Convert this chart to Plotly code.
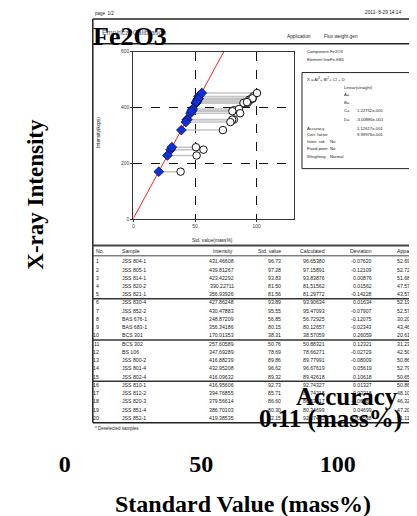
import plotly.graph_objects as go

# ---------------- data ----------------
sample_no = list(range(1, 21))
samples = ["JSS 804-1", "JSS 805-1", "JSS 814-1", "JSS 820-2", "JSS 821-1",
           "JSS 830-4", "JSS 852-2", "BAS 676-1", "BAS 683-1", "BCS 301",
           "BCS 302", "BS 106", "JSS 800-2", "JSS 801-4", "JSS 802-4",
           "JSS 810-1", "JSS 812-2", "JSS 820-3", "JSS 851-4", "JSS 852-1"]
intensity = [431.46608, 439.81267, 423.42292, 390.22711, 356.93926,
             427.86248, 430.47883, 248.87209, 356.34186, 170.01353,
             257.60589, 347.69289, 416.88239, 432.95208, 416.09632,
             416.95606, 394.76855, 379.56614, 386.70103, 419.38535]
std_value = [96.73, 97.28, 93.83, 81.50, 81.56,
             93.89, 95.55, 56.85, 80.15, 38.31,
             50.76, 78.69, 89.86, 96.62, 89.32,
             92.73, 85.71, 86.60, 80.30, 92.15]
calculated = [96.65380, 97.15891, 93.83876, 81.51562, 81.29772,
              93.90634, 95.47093, 56.72925, 80.12657, 38.57059,
              50.88321, 78.66271, 89.77991, 96.67619, 89.42618,
              92.74327, 85.74218, 86.53417, 80.34699, 92.07462]
deviation = [-0.07620, -0.12109, 0.00876, 0.01562, -0.14228,
             0.01634, -0.07907, -0.12075, -0.02343, 0.26059,
             0.12321, -0.02729, -0.08009, 0.05619, 0.10618,
             0.01327, 0.03218, -0.06583, 0.04699, -0.07538]
apparent = [52.6906, 52.7289, 51.6866, 47.5785, 43.5786,
            52.1982, 52.5708, 30.2069, 43.4619, 20.6136,
            31.2366, 42.5016, 50.8672, 52.7996, 50.6556,
            50.8606, 48.1062, 46.3227, 47.2036, 51.1137]
# further samples plotted (listed on page 2 of the report)
extra_intensity = [228.0, 319.0, 452.0]
extra_std = [51.3, 72.6, 100.3]
extra_apparent = [27.6, 38.9, 55.5]

coef_C = 1.22752e-001
coef_D = -3.00886e-001
coef_accuracy = 1.12617e-001
corr_factor = 9.99976e-001
accuracy_value = 0.11

outer_ticks = [0, 50, 100]
inner_xticks = [0, 50, 100]
inner_yticks = [0, 200, 400, 600]

# ---------------- geometry helpers ----------------
W, H = 417, 516
MB = 77
PH = H - MB
OFF = 8  # page margin of the browser


def fx(px):
    return (px - OFF) / W


def fy(py):
    return (PH - (py - OFF)) / PH


def sci(v):
    m, e = ("%.5e" % v).split("e")
    return "%se%s%03d" % (m, e[0], abs(int(e)))


SANS = "Liberation Sans, Arial, sans-serif"
SERIF = "Liberation Serif, Times New Roman, serif"
annots = []


def txt(px, py, s, size=5.5, xanchor="left", color="#222222", family=SANS, **kw):
    annots.append(dict(x=fx(px), y=fy(py), xref="paper", yref="paper", text=s,
                       showarrow=False, xanchor=xanchor, yanchor="middle",
                       font=dict(size=size, color=color, family=family), **kw))


shapes = []


def hline(py, x0, x1, w=1.2, color="#222222"):
    shapes.append(dict(type="line", xref="paper", yref="paper", x0=fx(x0), x1=fx(x1),
                       y0=fy(py), y1=fy(py), line=dict(color=color, width=w)))


def vline(px, y0, y1, w=1.2, color="#222222"):
    shapes.append(dict(type="line", xref="paper", yref="paper", x0=fx(px), x1=fx(px),
                       y0=fy(y0), y1=fy(y1), line=dict(color=color, width=w)))


# ---------------- report frame ----------------
hline(16, 92, 425, 1.5)
hline(41, 92, 425, 1.5)
vline(92, 16, 422.5, 1.5)
shapes.append(dict(type="rect", xref="paper", yref="paper", x0=fx(301.7), x1=fx(416),
                   y0=fy(70), y1=fy(166.7), line=dict(color="#222222", width=1)))

txt(92, 11, "page  1/2", size=4.5)
txt(404, 10, "2011- 8-29 14:14", size=4.8, xanchor="right")
txt(99, 30, "Empirical Calibration", size=7, color="#55608a")
txt(285, 34, "Application", size=4.8)
txt(322, 34, "Flux weight gen", size=4.8)

S = 4.2
txt(305, 49, "Component", size=S)
txt(328, 49, "Fe2O3", size=S)
txt(305, 57, "Element line", size=S)
txt(328, 57, "Fe-KB1", size=S)

txt(305, 76.5, "X = AI<sup>3</sup>+ BI<sup>2</sup>+ CI + D", size=S)
txt(341.5, 85, "Linear(straight)", size=S)
txt(341.5, 92.3, "A=", size=S)
txt(341.5, 100, "B=", size=S)
txt(341.5, 108.3, "C=", size=S)
txt(386, 108.3, sci(coef_C), size=S, xanchor="right")
txt(341.5, 117.3, "D=", size=S)
txt(386, 117.3, sci(coef_D), size=S, xanchor="right")
txt(305, 126, "Accuracy", size=S)
txt(386, 126, sci(coef_accuracy), size=S, xanchor="right")
txt(305, 132, "Corr. factor", size=S)
txt(386, 132, sci(corr_factor), size=S, xanchor="right")
txt(305, 139.5, "Inten. std", size=S)
txt(328, 139.5, "No", size=S)
txt(305, 146.7, "Fixed point", size=S)
txt(328, 146.7, "No", size=S)
txt(305, 154, "Weighting", size=S)
txt(328, 154, "Normal", size=S)

# inner axis titles
txt(212, 239, "Std. value(mass%)", size=4.8, xanchor="center")
txt(97, 130, "Intensity(kcps)", size=4.8, xanchor="center", textangle=-90)

# ---------------- table ----------------
hline(244, 92, 425, 2, "#444444")
hline(254.5, 92, 425, 1, "#444444")
header_y = 249.3
T = 5.2
txt(93, header_y, "No.", size=T)
txt(119, header_y, "Sample", size=T)
txt(235, header_y, "Intensity", size=T, xanchor="right")
txt(283, header_y, "Std. value", size=T, xanchor="right")
txt(327, header_y, "Calculated", size=T, xanchor="right")
txt(374, header_y, "Deviation", size=T, xanchor="right")
txt(395, header_y, "Apparent", size=T)

for i in range(len(sample_no)):
    g, j = divmod(i, 5)
    ry = 260 + g * 41.5 + j * 8.3
    txt(100, ry, str(sample_no[i]), size=T, xanchor="right")
    txt(119, ry, samples[i], size=T)
    txt(236, ry, "%.5f" % intensity[i], size=T, xanchor="right")
    txt(283, ry, "%.2f" % std_value[i], size=T, xanchor="right")
    txt(327, ry, "%.5f" % calculated[i], size=T, xanchor="right")
    txt(374, ry, "%.5f" % deviation[i], size=T, xanchor="right")
    txt(395, ry, "%.4f" % apparent[i], size=T)
for g in range(1, 4):
    hline(260 + g * 41.5 - 3.8, 92, 425, 1.5, "#333333")
hline(422.5, 92, 425, 1.5)
txt(92, 428.5, "*:Deselected samples", size=4.5)

# ---------------- inner calibration plot ----------------
all_I = intensity + extra_intensity
all_std = std_value + extra_std
all_app = apparent + extra_apparent

cx, cy = [], []
for a, s, it in zip(all_app, all_std, all_I):
    cx += [a, s, None]
    cy += [it, it, None]

fig = go.Figure()
# anchors the outer (label) axes
fig.add_trace(go.Scatter(x=[None], y=[None], mode="markers", xaxis="x", yaxis="y",
                         hoverinfo="skip"))
fig.add_trace(go.Scatter(x=cx, y=cy, mode="lines", xaxis="x2", yaxis="y2",
                         line=dict(color="#c4c4c4", width=1.5), hoverinfo="skip"))
line_I = [0, 600]
fig.add_trace(go.Scatter(x=[coef_C * v + coef_D for v in line_I], y=line_I,
                         mode="lines", xaxis="x2", yaxis="y2",
                         line=dict(color="#ff2020", width=1)))
fig.add_trace(go.Scatter(x=all_std, y=all_I, mode="markers", xaxis="x2", yaxis="y2",
                         marker=dict(symbol="circle", size=7.5, color="white",
                                     line=dict(color="#111111", width=1))))
fig.add_trace(go.Scatter(x=all_app, y=all_I, mode="markers", xaxis="x2", yaxis="y2",
                         marker=dict(symbol="diamond", size=7.5, color="#1030e0",
                                     line=dict(color="#101040", width=0.8))))

# ---------------- overlay labels ----------------
txt(90, 34, "<b>Fe2O3</b>", size=26, color="black", family=SERIF)
txt(35, 192, "<b>X-ray Intensity</b>", size=23, color="black", family=SERIF,
    xanchor="center", textangle=-90)
txt(242.5, 504, "<b>Standard Value (mass%)</b>", size=24, color="black", family=SERIF,
    xanchor="center")
txt(347, 396, "<b>Accuracy</b>", size=25, color="black", family=SERIF, xanchor="center")
txt(404, 419, "<b>%.2f (mass%%)</b>" % accuracy_value, size=25, color="black",
    family=SERIF, xanchor="right")

# outer axis: 0 -> 64px, 100 -> 337.5px (screen)
x0p, x100p = 64 - OFF, 337.5 - OFF
scale = (x100p - x0p) / 100.0
xr = [-x0p / scale, 100 + (W - x100p) / scale]

fig.update_layout(
    width=W, height=H,
    margin=dict(l=0, r=0, t=0, b=MB),
    paper_bgcolor="white", plot_bgcolor="rgba(0,0,0,0)",
    showlegend=False,
    xaxis=dict(range=xr, tickvals=outer_ticks, ticktext=[str(v) for v in outer_ticks],
               showgrid=False, zeroline=False, showline=False, ticks="",
               tickfont=dict(size=24, family=SERIF, color="black", weight="bold"),
               fixedrange=True),
    yaxis=dict(range=[0, 1], showgrid=False, zeroline=False, showline=False,
               showticklabels=False, ticks="", fixedrange=True),
    xaxis2=dict(domain=[fx(132.7), fx(293.3)], anchor="y2", range=[0, 130],
                tickvals=inner_xticks, showgrid=True, gridcolor="#111111",
                griddash="dash", gridwidth=0.8, zeroline=False,
                showline=True, mirror=True, linecolor="#333333", linewidth=1.3,
                ticks="outside", ticklen=2, tickcolor="#333333",
                tickfont=dict(size=5, color="#444444", family=SANS)),
    yaxis2=dict(domain=[fy(217.5), fy(49)], anchor="x2", range=[0, 600],
                tickvals=inner_yticks, showgrid=True, gridcolor="#111111",
                griddash="dash", gridwidth=0.8, zeroline=False,
                showline=True, mirror=True, linecolor="#333333", linewidth=1.3,
                ticks="outside", ticklen=2, tickcolor="#333333",
                tickfont=dict(size=5, color="#444444", family=SANS)),
    shapes=shapes,
    annotations=annots,
)

fig.write_html("out.html")
